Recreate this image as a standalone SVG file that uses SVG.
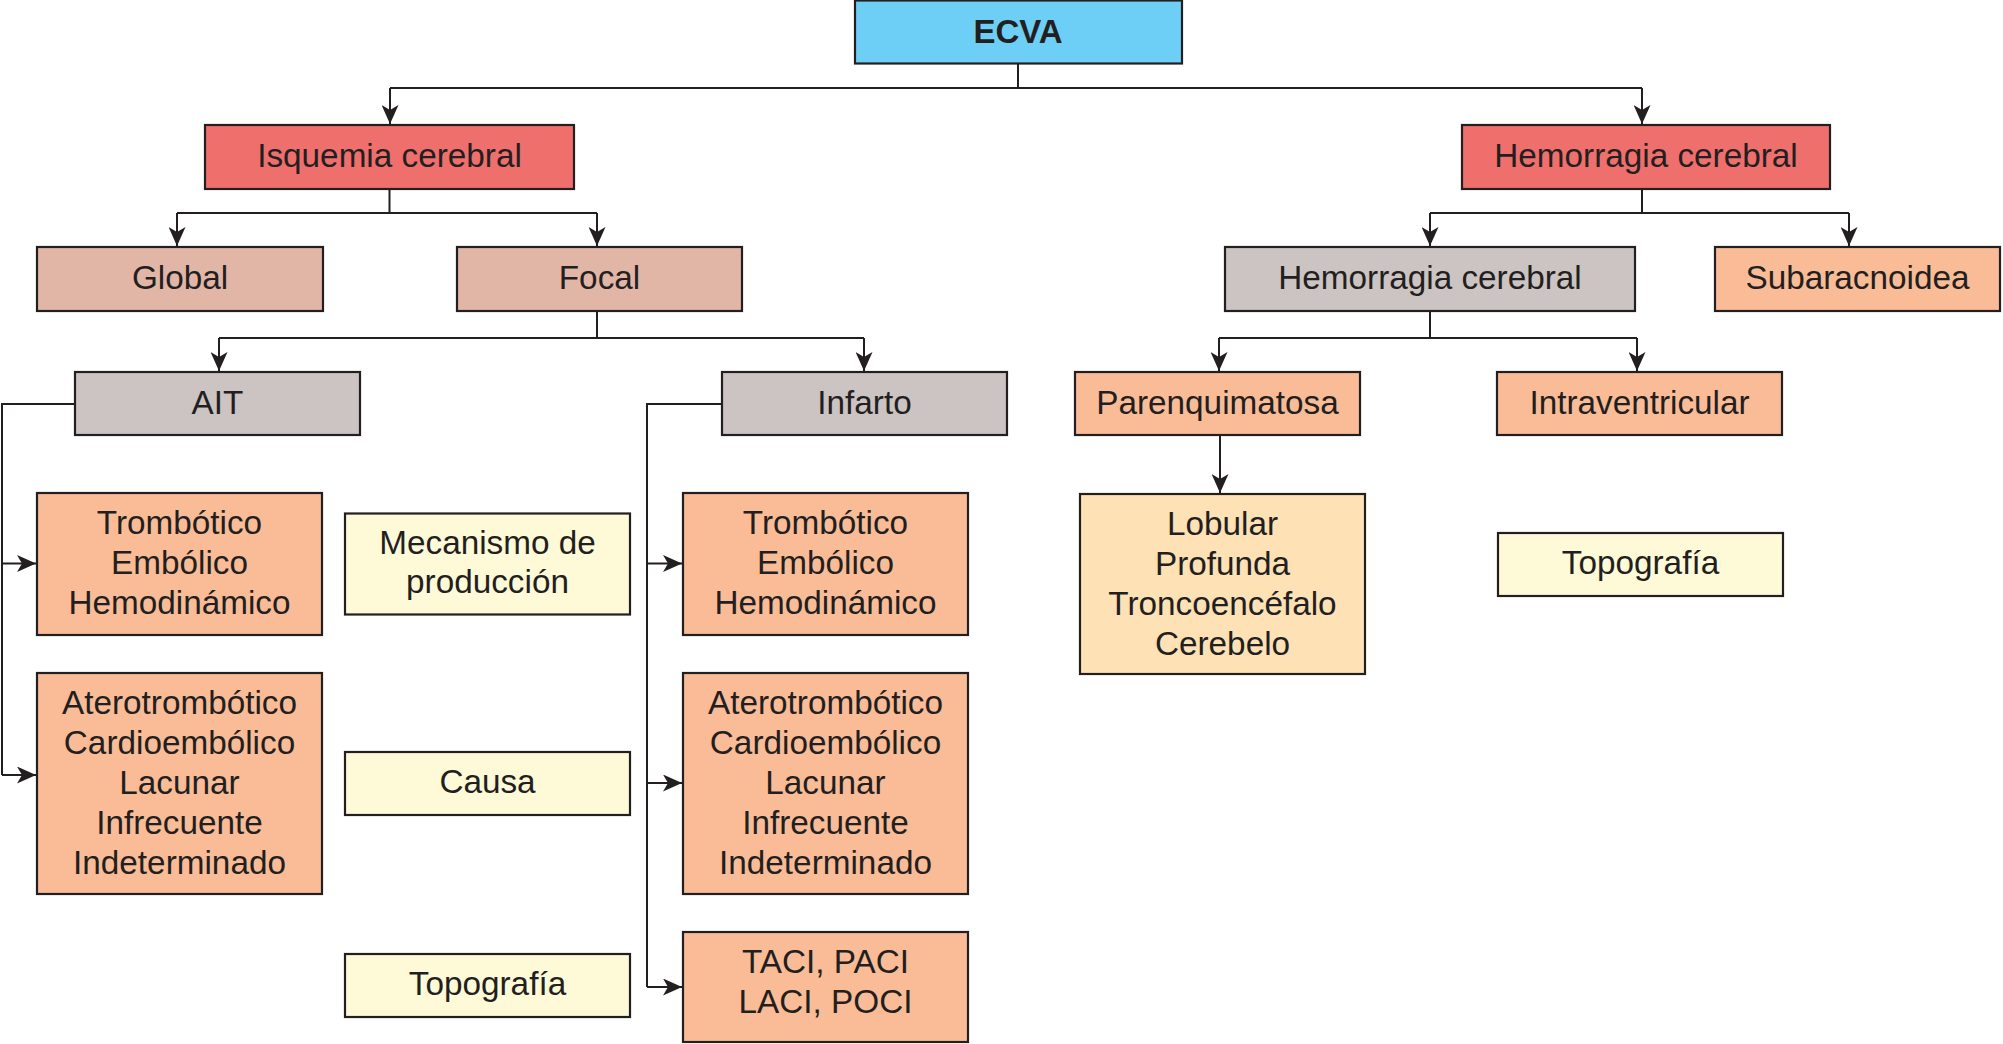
<svg xmlns="http://www.w3.org/2000/svg" width="2003" height="1044" viewBox="0 0 2003 1044">
<defs>
<style>
.box{stroke:#231f20;stroke-width:2.2}
.blue{fill:#6dcff6}
.red{fill:#ef6f6d}
.rose{fill:#e2b6a7}
.grey{fill:#cbc4c2}
.orange{fill:#f9bc97}
.yellow{fill:#fefad8}
.peach{fill:#fee1b5}
text{font-family:"Liberation Sans",Arial,Helvetica,sans-serif;font-size:33.3px;fill:#231f20;text-anchor:middle}
.bold{font-weight:bold;font-size:33px}
.conn{fill:none;stroke:#231f20;stroke-width:2}
</style>
<marker id="arr" markerUnits="userSpaceOnUse" viewBox="0 0 19 17" refX="19" refY="8.5" markerWidth="19" markerHeight="17" orient="auto">
<path d="M0,0 L19,8.5 L0,17 L5,8.5 Z" fill="#231f20"/>
</marker>
</defs>
<rect width="2003" height="1044" fill="#ffffff"/>

<g id="connectors">
<path class="conn" d="M1018,64 V88"/>
<path class="conn" d="M390,88 H1642"/>
<path class="conn" d="M390,88 V124" marker-end="url(#arr)"/>
<path class="conn" d="M1642,88 V124" marker-end="url(#arr)"/>

<path class="conn" d="M389.5,189 V213 M177,213 H597"/>
<path class="conn" d="M177,213 V246" marker-end="url(#arr)"/>
<path class="conn" d="M597,213 V246" marker-end="url(#arr)"/>

<path class="conn" d="M1642,189 V213 M1430,213 H1849"/>
<path class="conn" d="M1430,213 V246" marker-end="url(#arr)"/>
<path class="conn" d="M1849,213 V246" marker-end="url(#arr)"/>

<path class="conn" d="M597,311 V338 M219,338 H864"/>
<path class="conn" d="M219,338 V371" marker-end="url(#arr)"/>
<path class="conn" d="M864,338 V371" marker-end="url(#arr)"/>

<path class="conn" d="M1430,311 V338 M1219,338 H1637"/>
<path class="conn" d="M1219,338 V371" marker-end="url(#arr)"/>
<path class="conn" d="M1637,338 V371" marker-end="url(#arr)"/>

<path class="conn" d="M1220,435 V493" marker-end="url(#arr)"/>

<path class="conn" d="M75,404 H2 V775"/>
<path class="conn" d="M2,563.5 H36" marker-end="url(#arr)"/>
<path class="conn" d="M2,775 H36" marker-end="url(#arr)"/>

<path class="conn" d="M722,404 H647 V987"/>
<path class="conn" d="M647,563.5 H682" marker-end="url(#arr)"/>
<path class="conn" d="M647,783 H682" marker-end="url(#arr)"/>
<path class="conn" d="M647,987 H682" marker-end="url(#arr)"/>
</g>

<g id="ecva">
<rect class="box blue" x="855" y="0.5" width="327" height="63"/>
<text class="bold" x="1018" y="43">ECVA</text>
</g>
<g id="isquemia">
<rect class="box red" x="205" y="125" width="369" height="64"/>
<text x="389.5" y="167">Isquemia cerebral</text>
</g>
<g id="hemorragia">
<rect class="box red" x="1462" y="125" width="368" height="64"/>
<text x="1646" y="167">Hemorragia cerebral</text>
</g>
<g id="global">
<rect class="box rose" x="37" y="247" width="286" height="64"/>
<text x="180" y="289">Global</text>
</g>
<g id="focal">
<rect class="box rose" x="457" y="247" width="285" height="64"/>
<text x="599.5" y="289">Focal</text>
</g>
<g id="hemorragia2">
<rect class="box grey" x="1225" y="247" width="410" height="64"/>
<text x="1430" y="289">Hemorragia cerebral</text>
</g>
<g id="subaracnoidea">
<rect class="box orange" x="1715" y="247" width="285" height="64"/>
<text x="1857.5" y="289">Subaracnoidea</text>
</g>
<g id="ait">
<rect class="box grey" x="75" y="372" width="285" height="63"/>
<text x="217.5" y="414">AIT</text>
</g>
<g id="infarto">
<rect class="box grey" x="722" y="372" width="285" height="63"/>
<text x="864.5" y="414">Infarto</text>
</g>
<g id="parenquimatosa">
<rect class="box orange" x="1075" y="372" width="285" height="63"/>
<text x="1217.5" y="414">Parenquimatosa</text>
</g>
<g id="intraventricular">
<rect class="box orange" x="1497" y="372" width="285" height="63"/>
<text x="1639.5" y="414">Intraventricular</text>
</g>

<g id="ait-mecanismo">
<rect class="box orange" x="37" y="493" width="285" height="142"/>
<text x="179.5" y="534">Trombótico</text>
<text x="179.5" y="574">Embólico</text>
<text x="179.5" y="613.5">Hemodinámico</text>
</g>
<g id="ait-causa">
<rect class="box orange" x="37" y="673" width="285" height="221"/>
<text x="179.5" y="714">Aterotrombótico</text>
<text x="179.5" y="754">Cardioembólico</text>
<text x="179.5" y="794">Lacunar</text>
<text x="179.5" y="834">Infrecuente</text>
<text x="179.5" y="873.5">Indeterminado</text>
</g>
<g id="mecanismo">
<rect class="box yellow" x="345" y="513.5" width="285" height="101"/>
<text x="487.5" y="554">Mecanismo de</text>
<text x="487.5" y="593">producción</text>
</g>
<g id="causa">
<rect class="box yellow" x="345" y="752" width="285" height="63"/>
<text x="487.5" y="793">Causa</text>
</g>
<g id="topografia1">
<rect class="box yellow" x="345" y="954" width="285" height="63"/>
<text x="487.5" y="995">Topografía</text>
</g>
<g id="infarto-mecanismo">
<rect class="box orange" x="683" y="493" width="285" height="142"/>
<text x="825.5" y="534">Trombótico</text>
<text x="825.5" y="574">Embólico</text>
<text x="825.5" y="613.5">Hemodinámico</text>
</g>
<g id="infarto-causa">
<rect class="box orange" x="683" y="673" width="285" height="221"/>
<text x="825.5" y="714">Aterotrombótico</text>
<text x="825.5" y="754">Cardioembólico</text>
<text x="825.5" y="794">Lacunar</text>
<text x="825.5" y="834">Infrecuente</text>
<text x="825.5" y="873.5">Indeterminado</text>
</g>
<g id="infarto-topografia">
<rect class="box orange" x="683" y="932" width="285" height="110"/>
<text x="825.5" y="973">TACI, PACI</text>
<text x="825.5" y="1013">LACI, POCI</text>
</g>
<g id="parenq-topografia">
<rect class="box peach" x="1080" y="494" width="285" height="180"/>
<text x="1222.5" y="535">Lobular</text>
<text x="1222.5" y="575">Profunda</text>
<text x="1222.5" y="615">Troncoencéfalo</text>
<text x="1222.5" y="655">Cerebelo</text>
</g>
<g id="topografia2">
<rect class="box yellow" x="1498" y="533" width="285" height="63"/>
<text x="1640.5" y="574">Topografía</text>
</g>
</svg>
